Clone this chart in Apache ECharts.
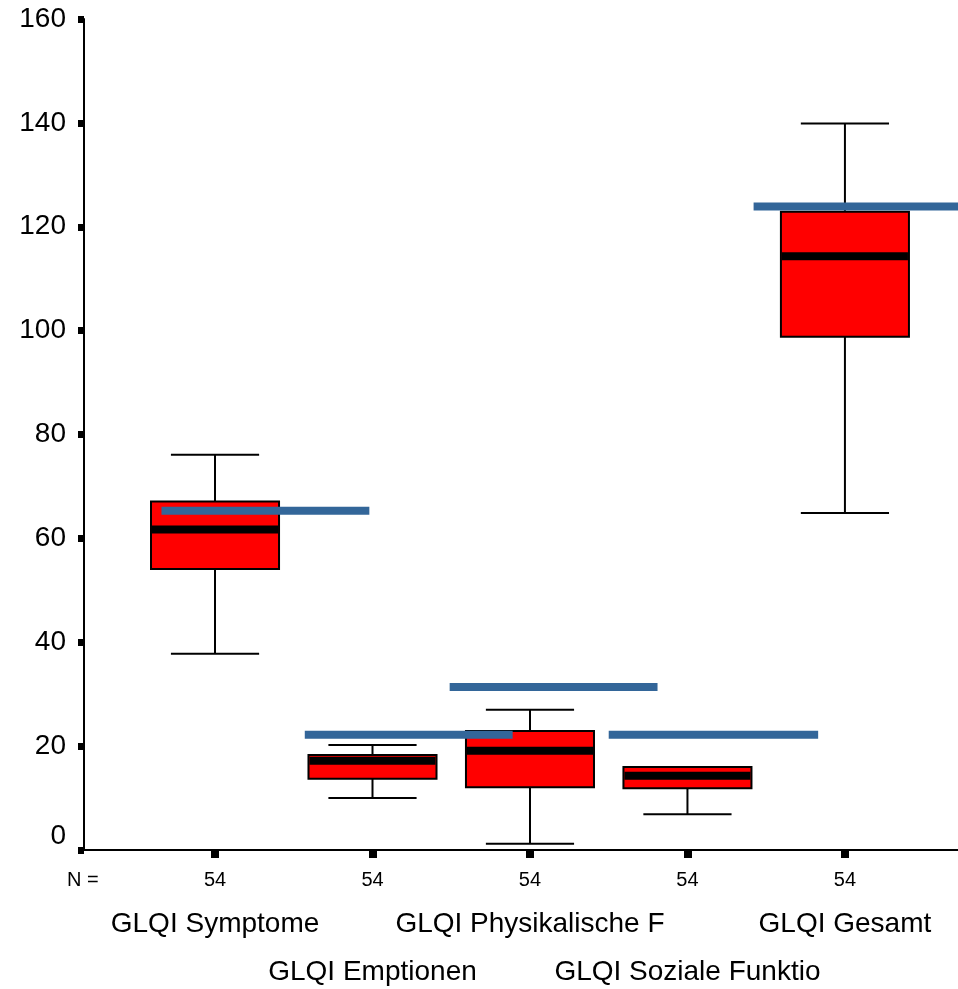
<!DOCTYPE html>
<html>
<head>
<meta charset="utf-8">
<script src="https://cdn.jsdelivr.net/npm/echarts@6/dist/echarts.min.js"></script>
<style>html,body{margin:0;padding:0;background:#fff;}#c{width:958px;height:989px;}</style>
</head>
<body>
<div id="c"></div>
<script>
const categories = ['GLQI Symptome', 'GLQI Emptionen', 'GLQI Physikalische F', 'GLQI Soziale Funktio', 'GLQI Gesamt'];
const nCounts = [54, 54, 54, 54, 54];
const whiskerLow = [37.8, 10.0, 1.2, 6.9, 64.9];
const q1 = [54.1, 13.7, 12.1, 11.9, 98.8];
const median = [61.7, 17.2, 19.1, 14.3, 114.3];
const q3 = [67.1, 18.3, 22.9, 16.0, 122.9];
const whiskerHigh = [76.1, 20.2, 27.0, 16.0, 139.9];
const normValue = [65.3, 22.2, 31.4, 22.2, 123.9];
const normFrom = [-0.34, 0.57, 1.49, 2.50, 3.42];
const normTo = [0.98, 1.89, 2.81, 3.83, 4.90];

const FONT = '"Liberation Sans", Arial, sans-serif';
const XMIN = -0.832, XMAX = 4.718;
const BOX_W = 0.813, CAP_W = 0.56;
const idx = categories.map((c, i) => i);

const boxData = idx.map(i => [i, whiskerLow[i], q1[i], median[i], q3[i], whiskerHigh[i]]);
const normData = idx.map(i => [normFrom[i], normTo[i], normValue[i]]);

function renderBox(params, api) {
  const x = api.value(0);
  const lo = api.coord([x, api.value(1)]);
  const b1 = api.coord([x, api.value(2)]);
  const md = api.coord([x, api.value(3)]);
  const b3 = api.coord([x, api.value(4)]);
  const hi = api.coord([x, api.value(5)]);
  const hw = api.size([BOX_W, 0])[0] / 2;
  const cw = api.size([CAP_W, 0])[0] / 2;
  const cx = lo[0];
  const line = { stroke: '#000', lineWidth: 2, fill: null };
  const children = [
    { type: 'line', shape: { x1: cx, y1: lo[1], x2: cx, y2: b1[1] }, style: line },
    { type: 'line', shape: { x1: cx, y1: b3[1], x2: cx, y2: hi[1] }, style: line },
    { type: 'line', shape: { x1: cx - cw, y1: lo[1], x2: cx + cw, y2: lo[1] }, style: line },
    { type: 'line', shape: { x1: cx - cw, y1: hi[1], x2: cx + cw, y2: hi[1] }, style: line },
    { type: 'rect', shape: { x: cx - hw, y: b3[1], width: 2 * hw, height: b1[1] - b3[1] },
      style: { fill: '#ff0000', stroke: '#000', lineWidth: 2 } },
    { type: 'rect', shape: { x: cx - hw + 1, y: md[1] - 4, width: 2 * hw - 2, height: 8 },
      style: { fill: '#000' } }
  ];
  return { type: 'group', children };
}

function renderNorm(params, api) {
  const v = api.value(2);
  const p0 = api.coord([api.value(0), v]);
  const p1 = api.coord([api.value(1), v]);
  return { type: 'rect', shape: { x: p0[0], y: p0[1] - 4, width: p1[0] - p0[0], height: 8 },
           style: { fill: '#336699' } };
}

const chart = echarts.init(document.getElementById('c'), null, { renderer: 'canvas' });
const hiddenX = (vals, margin) => ({
  type: 'value', min: XMIN, max: XMAX, position: 'bottom', offset: 0,
  axisLine: { show: false }, axisTick: { show: false }, splitLine: { show: false },
  axisLabel: { customValues: vals, formatter: v => categories[Math.round(v)], fontSize: 28,
               fontFamily: FONT, color: '#000', margin: margin, hideOverlap: false }
});
chart.setOption({
  animation: false,
  backgroundColor: '#fff',
  grid: { left: 84, right: 0, top: 19, bottom: 139 },
  xAxis: [
    {
      type: 'value', min: XMIN, max: XMAX, position: 'bottom',
      axisLine: { show: true, onZero: false, lineStyle: { color: '#000', width: 2 } },
      splitLine: { show: false },
      axisTick: { show: true, customValues: idx, length: 8, lineStyle: { color: '#000', width: 8 } },
      axisLabel: { customValues: idx, formatter: v => String(nCounts[Math.round(v)]), fontSize: 20,
                   fontFamily: FONT, color: '#000', margin: 20 }
    },
    hiddenX([0, 2, 4], 60),
    hiddenX([1, 3], 108)
  ],
  yAxis: {
    type: 'value', min: 0, max: 160, interval: 20,
    axisLine: { show: true, onZero: false, lineStyle: { color: '#000', width: 2 } },
    axisTick: { show: true, length: 6, lineStyle: { color: '#000', width: 7 } },
    splitLine: { show: false },
    axisLabel: {
      fontSize: 28, fontFamily: FONT, color: '#000', margin: 18,
      formatter: v => v === 0 ? '{z|0}' : String(v),
      rich: { z: { fontSize: 28, fontFamily: FONT, color: '#000', padding: [0, 0, 28, 0] } }
    }
  },
  graphic: [
    { type: 'text', left: 67, top: 870, style: { text: 'N =', fontSize: 20, fontFamily: FONT, fill: '#000' } }
  ],
  series: [
    { type: 'custom', name: 'box', xAxisIndex: 0, renderItem: renderBox, data: boxData,
      encode: { x: 0, y: [1, 2, 3, 4, 5] }, z: 2 },
    { type: 'custom', name: 'norm', xAxisIndex: 0, renderItem: renderNorm, data: normData,
      encode: { x: [0, 1], y: 2 }, z: 3, clip: true }
  ]
});
</script>
</body>
</html>
